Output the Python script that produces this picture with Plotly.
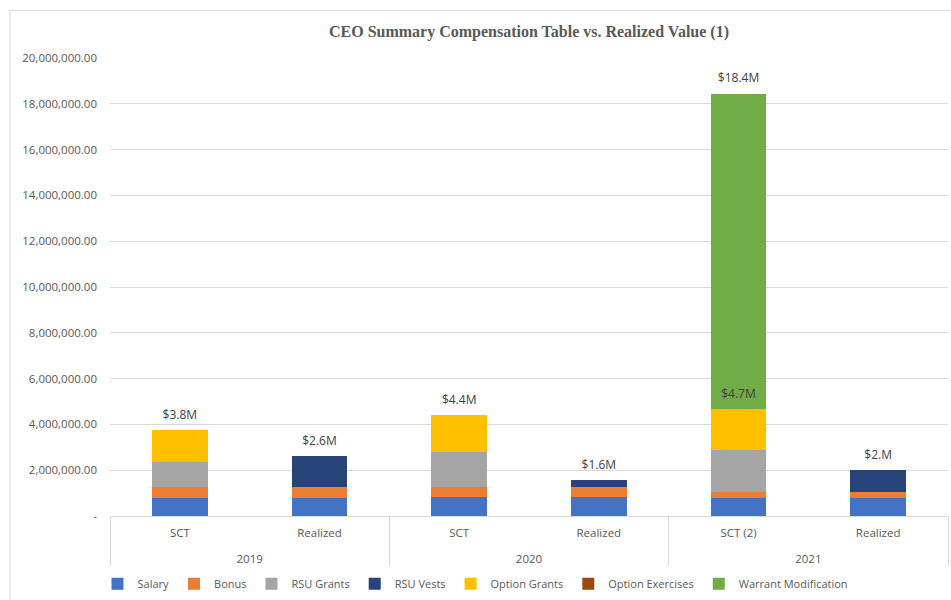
import plotly.graph_objects as go

years = ["2019", "2019", "2020", "2020", "2021", "2021"]
kinds = ["SCT", "Realized", "SCT", "Realized", "SCT (2)", "Realized"]

salary = [770000, 770000, 840000, 840000, 800000, 800000]
bonus = [510000, 510000, 410000, 410000, 260000, 260000]
rsu_grants = [1090000, 0, 1560000, 0, 1820000, 0]
rsu_vests = [0, 1340000, 0, 320000, 0, 940000]
option_grants = [1380000, 0, 1600000, 0, 1790000, 0]
option_exercises = [0, 0, 0, 0, 0, 0]
warrant_mod = [0, 0, 0, 0, 13760000, 0]

total_labels = ["$3.8M", "$2.6M", "$4.4M", "$1.6M", "$18.4M", "$2.M"]
sub_label = "$4.7M"  # SCT (2) before warrant modification

series = [
    ("Salary", salary, "#4472C4"),
    ("Bonus", bonus, "#ED7D31"),
    ("RSU Grants", rsu_grants, "#A5A5A5"),
    ("RSU Vests", rsu_vests, "#264478"),
    ("Option Grants", option_grants, "#FFC000"),
    ("Option Exercises", option_exercises, "#9E480E"),
    ("Warrant Modification", warrant_mod, "#70AD47"),
]

# inner labels get an empty second line so the year row sits lower, as in the original
kinds_axis = [k + "<br> " for k in kinds]
x = [years, kinds_axis]
fig = go.Figure()

# empty first trace so the SCT labels register first (keeps "SCT (2)" before "Realized" in 2021)
sct_idx = [i for i, k in enumerate(kinds) if k.startswith("SCT")]
fig.add_trace(go.Bar(x=[[years[i] for i in sct_idx], [kinds_axis[i] for i in sct_idx]],
                     y=[0] * len(sct_idx), showlegend=False, hoverinfo="skip",
                     marker=dict(color="rgba(0,0,0,0)")))

for name, vals, color in series:
    fig.add_trace(go.Bar(x=x, y=vals, name=name, marker=dict(color=color, line=dict(width=0)),
                         hoverinfo="y"))

label_font = dict(family="Open Sans, sans-serif", size=12, color="#404040")
totals = [sum(s[1][i] for s in series) for i in range(6)]
fig.add_trace(go.Scatter(x=x, y=totals, mode="markers+text", text=total_labels,
                         marker=dict(size=12, opacity=0), cliponaxis=False,
                         textposition="top center", showlegend=False, hoverinfo="skip",
                         textfont=label_font))
pre = [salary[4] + bonus[4] + rsu_grants[4] + option_grants[4]]
fig.add_trace(go.Scatter(x=[[years[4]], [kinds_axis[4]]], y=pre, mode="markers+text",
                         text=[sub_label], marker=dict(size=12, opacity=0),
                         textposition="top center", showlegend=False, hoverinfo="skip",
                         textfont=label_font))

tickvals = list(range(0, 20000001, 2000000))
ticktext = ["-"] + [f"{v:,.2f}" for v in tickvals[1:]]

fig.update_layout(
    width=951, height=600,
    paper_bgcolor="white", plot_bgcolor="white",
    margin=dict(l=110, r=3, t=58, b=84),
    barmode="stack", bargap=0.6,
    font=dict(family="Open Sans, sans-serif", size=11, color="#595959"),
    title=dict(text="<b>CEO Summary Compensation Table vs. Realized Value (1)</b>",
               x=0.5, xref="paper", y=0.948, yanchor="middle",
               font=dict(family="Liberation Serif, serif", size=16, color="#595959")),
    legend=dict(orientation="h", x=0.5, xanchor="center", xref="container",
                y=0.027, yanchor="middle", yref="container",
                font=dict(size=11, color="#595959"), traceorder="normal",
                itemwidth=30, tracegroupgap=0),
    showlegend=True,
    yaxis=dict(range=[0, 20000000], tickvals=tickvals, ticktext=ticktext,
               showgrid=True, gridcolor="#D9D9D9", gridwidth=1, zeroline=False,
               showline=False, ticks="", ticklabelstandoff=12,
               tickfont=dict(size=11.5, color="#595959")),
    xaxis=dict(type="multicategory", showline=True, linecolor="#D9D9D9", linewidth=1,
               showdividers=True, dividercolor="#D9D9D9", dividerwidth=1,
               ticklabelstandoff=6,
               tickfont=dict(size=11.5, color="#595959"), ticks=""),
    shapes=[dict(type="rect", xref="paper", yref="paper",
                 x0=-0.1193, x1=1.2, y0=-0.5, y1=1.104,
                 line=dict(color="#D9D9D9", width=1), fillcolor="rgba(0,0,0,0)",
                 layer="below")],
)

fig.write_html("out.html")
